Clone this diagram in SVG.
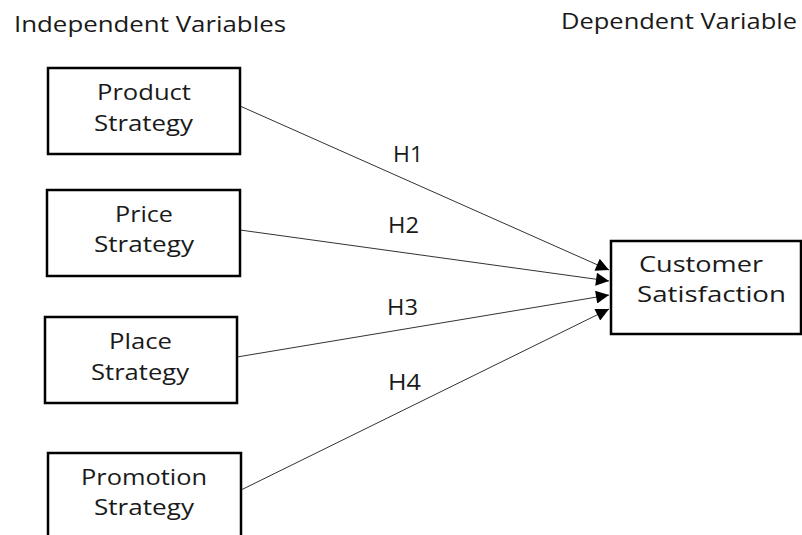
<svg xmlns="http://www.w3.org/2000/svg" width="802" height="535" viewBox="0 0 802 535">
  <defs>
    <style>
      text { font-family: "Open Sans", "Noto Sans", "DejaVu Sans", sans-serif; font-size: 21px; fill: #1a1a1a; }
      .box { fill: #ffffff; stroke: #000000; stroke-width: 2.5; }
      .edge { stroke: #333333; stroke-width: 1; fill: none; marker-end: url(#arrow); }
    </style>
    <marker id="arrow" viewBox="0 0 10 10" refX="10" refY="5" markerWidth="15" markerHeight="13" markerUnits="userSpaceOnUse" orient="auto">
      <path d="M0,0 L10,5 L0,10 Z" fill="#000000"/>
    </marker>
  </defs>
  <rect width="802" height="535" fill="#ffffff"/>

  <text x="14" y="32" textLength="272" lengthAdjust="spacingAndGlyphs">Independent Variables</text>
  <text x="561" y="29" textLength="236" lengthAdjust="spacingAndGlyphs">Dependent Variable</text>

  <g id="connectors">
    <line class="edge" x1="240" y1="106" x2="609" y2="270"/>
    <line class="edge" x1="240" y1="230" x2="609" y2="281"/>
    <line class="edge" x1="237" y1="357" x2="609" y2="295"/>
    <line class="edge" x1="241" y1="490" x2="609" y2="309"/>
    <text x="393" y="162" textLength="30" lengthAdjust="spacingAndGlyphs">H1</text>
    <text x="388" y="233" textLength="31" lengthAdjust="spacingAndGlyphs">H2</text>
    <text x="387" y="315" textLength="31" lengthAdjust="spacingAndGlyphs">H3</text>
    <text x="388" y="390" textLength="33" lengthAdjust="spacingAndGlyphs">H4</text>
  </g>

  <g id="product">
    <rect class="box" x="48" y="68" width="192" height="86"/>
    <text x="97" y="100" textLength="94" lengthAdjust="spacingAndGlyphs">Product</text>
    <text x="94" y="131" textLength="99" lengthAdjust="spacingAndGlyphs">Strategy</text>
  </g>
  <g id="price">
    <rect class="box" x="47" y="190" width="193" height="86"/>
    <text x="115" y="222" textLength="58" lengthAdjust="spacingAndGlyphs">Price</text>
    <text x="94" y="252" textLength="100" lengthAdjust="spacingAndGlyphs">Strategy</text>
  </g>
  <g id="place">
    <rect class="box" x="45" y="317" width="192" height="86"/>
    <text x="109" y="349" textLength="63" lengthAdjust="spacingAndGlyphs">Place</text>
    <text x="91" y="380" textLength="98" lengthAdjust="spacingAndGlyphs">Strategy</text>
  </g>
  <g id="promotion">
    <rect class="box" x="48" y="453" width="193" height="100"/>
    <text x="81" y="485" textLength="126" lengthAdjust="spacingAndGlyphs">Promotion</text>
    <text x="94" y="515" textLength="100" lengthAdjust="spacingAndGlyphs">Strategy</text>
  </g>
  <g id="customer">
    <rect class="box" x="611" y="241" width="190" height="93"/>
    <text x="639" y="272" textLength="124" lengthAdjust="spacingAndGlyphs">Customer</text>
    <text x="637" y="302" textLength="149" lengthAdjust="spacingAndGlyphs">Satisfaction</text>
  </g>
</svg>
